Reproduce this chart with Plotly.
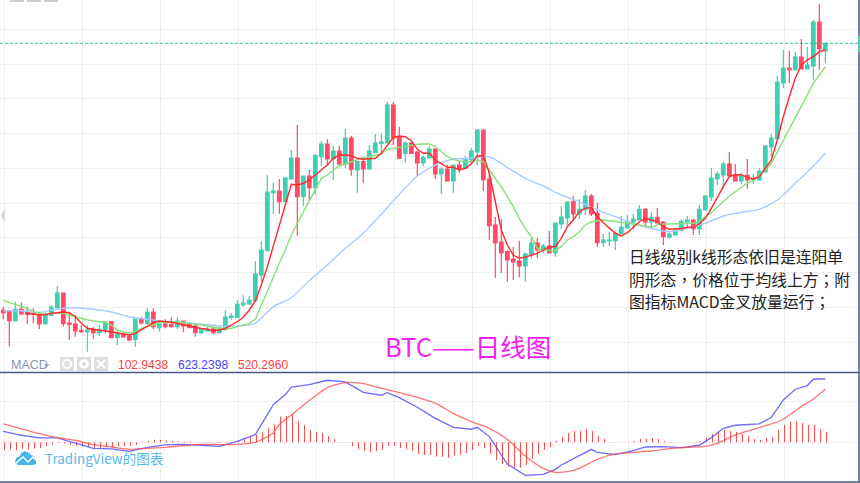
"""BTC daily candles with three moving averages and a MACD pane."""
import plotly.graph_objects as go

W, H = 860, 483

# Candles, oldest first. The source hides its price axis, so prices are in chart units.
opens = [
    900, 883, 793, 907, 873, 867, 857, 760, 847, 923,
    1070, 770, 760, 693, 683, 710, 673, 707, 783, 623,
    660, 640, 607, 807, 767, 880, 723, 760, 753, 733,
    790, 753, 740, 673, 690, 710, 673, 707, 827, 823,
    953, 960, 993, 1250, 1493, 2073, 2090, 1983, 2210, 2420,
    2033, 2240, 2123, 2433, 2560, 2410, 2490, 2360, 2620, 2300,
    2383, 2310, 2477, 2567, 2570, 2950, 2637, 2467, 2570, 2480,
    2370, 2420, 2510, 2260, 2310, 2190, 2350, 2317, 2403, 2480,
    2700, 2210, 1750, 1580, 1483, 1410, 1390, 1340, 1450, 1570,
    1500, 1540, 1470, 1760, 1820, 1983, 1860, 1907, 2040, 1867,
    1573, 1590, 1593, 1660, 1720, 1780, 1800, 1907, 1780, 1827,
    1780, 1630, 1650, 1693, 1780, 1800, 1713, 1900, 2030, 2210,
    2250, 2360, 2250, 2190, 2247, 2200, 2200, 2280, 2530, 2610,
    3170, 3320, 3300, 3430, 3310, 3340, 3780, 3490,
]
highs = [
    933, 883, 983, 977, 933, 917, 867, 883, 950, 1140,
    1070, 883, 850, 750, 750, 733, 750, 790, 790, 707,
    683, 660, 810, 833, 917, 917, 767, 807, 827, 827,
    790, 783, 750, 717, 733, 733, 733, 900, 867, 1000,
    1050, 1040, 1387, 1590, 2250, 2177, 2210, 2233, 2500, 2750,
    2240, 2300, 2460, 2590, 2607, 2540, 2540, 2710, 2640, 2383,
    2433, 2550, 2660, 2667, 2980, 2980, 2733, 2583, 2583, 2490,
    2443, 2540, 2510, 2327, 2350, 2350, 2390, 2443, 2523, 2710,
    2707, 2267, 1830, 1810, 1493, 1533, 1593, 1473, 1617, 1620,
    1560, 1690, 1770, 1940, 1980, 2040, 2010, 2100, 2060, 1973,
    1660, 1680, 1680, 1840, 1850, 1860, 1950, 1920, 1877, 1920,
    1790, 1677, 1700, 1807, 1840, 1810, 1950, 2050, 2320, 2287,
    2383, 2480, 2360, 2273, 2410, 2260, 2320, 2550, 2660, 3240,
    3500, 3493, 3480, 3610, 3530, 3800, 3960, 3567,
]
lows = [
    807, 533, 793, 850, 760, 767, 710, 760, 840, 923,
    733, 600, 633, 673, 483, 610, 640, 660, 623, 550,
    623, 587, 533, 757, 750, 707, 683, 717, 723, 710,
    677, 717, 633, 660, 683, 660, 673, 693, 800, 823,
    933, 950, 983, 1183, 1493, 1860, 1860, 1983, 2210, 1643,
    1943, 1990, 2050, 2340, 2360, 2200, 2350, 2320, 2243, 2073,
    2173, 2300, 2467, 2473, 2570, 2550, 2417, 2370, 2467, 2240,
    2340, 2410, 2210, 2060, 2190, 2073, 2273, 2317, 2373, 2350,
    2090, 1600, 1220, 1270, 1183, 1200, 1227, 1183, 1417, 1420,
    1467, 1470, 1433, 1710, 1750, 1810, 1810, 1850, 1840, 1530,
    1533, 1540, 1500, 1660, 1720, 1707, 1800, 1727, 1727, 1770,
    1550, 1613, 1650, 1693, 1707, 1650, 1650, 1900, 1990, 2150,
    2113, 2240, 2190, 2160, 2113, 2160, 2193, 2280, 2433, 2610,
    3120, 3170, 3300, 3310, 3310, 3200, 3300, 3370,
]
closes = [
    873, 793, 907, 860, 857, 860, 760, 857, 930, 1070,
    763, 757, 690, 683, 700, 673, 707, 780, 623, 660,
    630, 600, 810, 770, 880, 733, 757, 733, 733, 790,
    740, 723, 673, 703, 710, 673, 720, 830, 840, 957,
    970, 1000, 1260, 1500, 2080, 2090, 1983, 2220, 2420, 2033,
    2240, 2123, 2443, 2560, 2410, 2490, 2360, 2620, 2307, 2383,
    2310, 2490, 2570, 2580, 2950, 2620, 2417, 2570, 2467, 2370,
    2427, 2510, 2260, 2310, 2190, 2350, 2317, 2410, 2490, 2700,
    2203, 1743, 1570, 1470, 1400, 1380, 1340, 1460, 1570, 1500,
    1540, 1470, 1770, 1830, 1980, 1860, 1907, 2040, 1860, 1573,
    1600, 1600, 1667, 1727, 1787, 1810, 1907, 1780, 1827, 1770,
    1633, 1660, 1700, 1787, 1800, 1713, 1907, 2040, 2220, 2260,
    2360, 2240, 2190, 2247, 2200, 2210, 2287, 2540, 2620, 3180,
    3320, 3300, 3430, 3310, 3350, 3780, 3510, 3567,
]

# Moving averages. The fast one starts at bar 4, the slow one is read every few bars.
ma_fast_start = 4
ma_fast = [
    867, 860, 850, 853, 867, 873, 880, 873, 833, 767,
    717, 705, 700, 690, 680, 670, 660, 650, 667, 700,
    733, 773, 790, 785, 777, 765, 753, 738, 723, 715,
    707, 693, 700, 717, 750, 783, 827, 900, 990, 1150,
    1333, 1543, 1760, 1960, 2157, 2150, 2167, 2200, 2250, 2300,
    2350, 2417, 2450, 2450, 2443, 2417, 2407, 2413, 2417, 2467,
    2550, 2627, 2637, 2633, 2593, 2507, 2467, 2467, 2400, 2360,
    2327, 2327, 2300, 2317, 2360, 2443, 2440, 2267, 1967, 1700,
    1550, 1450, 1417, 1427, 1450, 1467, 1500, 1533, 1533, 1617,
    1733, 1800, 1883, 1917, 1927, 1833, 1773, 1717, 1667, 1640,
    1673, 1727, 1783, 1817, 1800, 1783, 1733, 1707, 1713, 1713,
    1727, 1727, 1760, 1817, 1917, 2033, 2133, 2233, 2253, 2253,
    2227, 2210, 2233, 2317, 2400, 2600, 2833, 3033, 3217, 3350,
    3400, 3433, 3483, 3500,
]
ma_mid = [
    993, 973, 957, 940, 917, 883, 867, 857, 867, 873,
    867, 850, 833, 817, 800, 790, 783, 777, 750, 700,
    683, 667, 683, 717, 733, 750, 777, 777, 773, 773,
    777, 767, 760, 750, 740, 727, 717, 710, 717, 733,
    750, 767, 807, 950, 1100, 1233, 1367, 1500, 1650, 1767,
    1883, 2000, 2117, 2217, 2250, 2300, 2340, 2360, 2383, 2400,
    2423, 2433, 2443, 2460, 2507, 2517, 2527, 2540, 2550, 2557,
    2560, 2560, 2533, 2483, 2433, 2407, 2390, 2383, 2383, 2400,
    2383, 2300, 2217, 2133, 2033, 1933, 1817, 1717, 1633, 1517,
    1500, 1493, 1493, 1533, 1600, 1633, 1683, 1750, 1783, 1793,
    1800, 1793, 1787, 1773, 1773, 1760, 1750, 1733, 1727, 1750,
    1760, 1760, 1760, 1760, 1767, 1767, 1783, 1833, 1873, 1933,
    1983, 2040, 2083, 2117, 2167, 2200, 2250, 2300, 2367, 2483,
    2600, 2717, 2833, 2933, 3050, 3167, 3250, 3333,
]
ma_slow_bars = [
    0, 3, 6, 9, 12, 15, 18, 21, 24, 27, 30, 33, 36, 39, 42, 45, 48, 51, 54, 57,
    60, 63, 66, 69, 72, 75, 78, 81, 84, 87, 90, 93, 96, 99, 102, 105, 108, 111,
    114, 117, 120, 123, 126, 129, 132, 135, 137,
]
ma_slow = [
    893, 893, 877, 910, 923, 907, 880, 833, 807, 783, 773, 760, 740, 740, 767, 933,
    1023, 1193, 1350, 1517, 1667, 1857, 2057, 2240, 2350, 2410, 2417, 2433, 2327,
    2217, 2140, 2050, 1983, 1900, 1833, 1767, 1717, 1683, 1717, 1767, 1840, 1877,
    1907, 2000, 2167, 2340, 2467,
]

# MACD pane.
macd_hist = [
    -72, -72, -78, -65, -72, -62, -56, -39, -23, -7,
    -13, -23, -33, -39, -46, -56, -56, -49, -46, -39,
    -39, -33, -26, 7, 13, 26, 23, 16, 13, 10,
    7, 7, 3, 0, -3, -3, -7, -3, 3, 10,
    43, 52, 75, 98, 141, 173, 252, 258, 275, 209,
    170, 118, 101, 92, 62, 33, 3, 3, -36, -65,
    -85, -95, -85, -75, -36, -36, -56, -65, -85, -114,
    -124, -124, -141, -144, -154, -128, -124, -105, -75, -36,
    -56, -114, -173, -213, -239, -249, -249, -222, -164, -114,
    -75, -46, 13, 52, 92, 111, 111, 131, 111, 62,
    33, 3, 0, 0, 3, 13, 33, 33, 43, 33,
    13, 0, 0, 0, 3, 0, 13, 43, 82, 101,
    121, 111, 101, 82, 62, 33, 23, 43, 52, 121,
    170, 199, 209, 190, 170, 170, 131, 103,
]
macd_bars = [
    0, 3, 6, 9, 12, 15, 18, 21, 24, 27, 30, 33, 36, 39, 42, 45, 47, 48, 51, 54, 57,
    60, 63, 64, 66, 69, 72, 75, 78, 79, 81, 84, 87, 90, 92, 93, 95, 96, 98, 99, 102,
    105, 107, 110, 113, 116, 118, 120, 122, 126, 128, 130, 132, 134, 135, 137,
]
macd_line = [
    108, 69, 43, 43, -7, -59, -65, -88, -49, -26, -20, -26, -39, 10, 75, 369, 468,
    540, 566, 608, 592, 490, 461, 487, 438, 343, 235, 147, 128, 147, 56, -213, -324,
    -314, -265, -222, -164, -128, -69, -98, -121, -82, -46, -43, -52, -29, 46, 137,
    167, 180, 245, 415, 520, 556, 618, 623,
]
signal_bars = [
    0, 3, 6, 9, 12, 15, 18, 21, 24, 27, 30, 33, 36, 39, 42, 45, 46, 48, 51, 54, 57,
    60, 63, 66, 69, 72, 75, 78, 81, 84, 87, 90, 92, 94, 96, 99, 102, 105, 108, 111,
    114, 117, 119, 122, 125, 128, 130, 133, 135, 137,
]
signal_line = [
    180, 131, 85, 46, 20, -23, -46, -69, -59, -49, -33, -20, -23, -20, 0, 92, 175,
    268, 409, 536, 585, 576, 530, 487, 441, 383, 284, 203, 137, 29, -134, -255, -294,
    -288, -255, -167, -114, -98, -85, -62, -49, -39, -10, 72, 128, 180, 226, 350, 425,
    520,
]
macd_labels = ["102.9438", "623.2398", "520.2960"]

note_lines = [
    "日线级别k线形态依旧是连阳单",
    "阴形态，价格位于均线上方；附",
    "图指标MACD金叉放量运行；",
]

assert len(opens) == len(highs) == len(lows) == len(closes) == len(macd_hist) == len(ma_mid) == 138
assert len(ma_fast) == 134 and len(ma_slow) == len(ma_slow_bars)
assert len(macd_line) == len(macd_bars) and len(signal_line) == len(signal_bars)

UP, DOWN = "#41cfb2", "#ff4a68"
GRID = "#eeeeee"
BORDER = "#4a5a85"
CJK = "Noto Sans CJK SC"
CJK_NOTE = "Noto Sans CJK TC"  # centred full-width punctuation, as in the reference
bars = list(range(len(closes)))


def px(x):
    return x / W


def py(y):
    return 1 - y / H


def rect(x0, y0, x1, y1, color):
    return dict(type="rect", xref="paper", yref="paper", x0=px(x0), y0=py(y0),
                x1=px(x1), y1=py(y1), fillcolor=color, line_width=0)


def seg(x0, y0, x1, y1, color, width):
    return dict(type="line", xref="paper", yref="paper", x0=px(x0), y0=py(y0),
                x1=px(x1), y1=py(y1), line=dict(color=color, width=width))


def poly(points, color=None, line=None, width=1.5):
    path = "M " + " L ".join(f"{px(x):.5f},{py(y):.5f}" for x, y in points)
    if color:
        return dict(type="path", xref="paper", yref="paper", path=path + " Z",
                    fillcolor=color, line_width=0)
    return dict(type="path", xref="paper", yref="paper", path=path,
                line=dict(color=line, width=width))


def label(x, y, text, color, size, family="Liberation Sans"):
    return dict(xref="paper", yref="paper", x=px(x), y=py(y), text=text, showarrow=False,
                xanchor="left", yanchor="middle", align="left", borderpad=0,
                font=dict(color=color, size=size, family=family))


fig = go.Figure()
fig.add_trace(go.Candlestick(
    x=bars, open=opens, high=highs, low=lows, close=closes, whiskerwidth=0,
    increasing=dict(fillcolor=UP, line=dict(color=UP, width=1.2)),
    decreasing=dict(fillcolor=DOWN, line=dict(color=DOWN, width=1.2)),
))
fig.add_trace(go.Scatter(x=ma_slow_bars, y=ma_slow, mode="lines",
                         line=dict(color="#a9ccff", width=1.4, shape="spline", smoothing=0.6)))
fig.add_trace(go.Scatter(x=bars, y=ma_mid, mode="lines",
                         line=dict(color="#86e07a", width=1.4)))
fig.add_trace(go.Scatter(x=list(range(ma_fast_start, len(closes))), y=ma_fast, mode="lines",
                         line=dict(color="#ff2a2a", width=1.4)))

# histogram as 1px stems: plotly bars will not go thinner than about 2px here
stem_x, stem_y = [], []
for b, value in zip(bars, macd_hist):
    stem_x += [b + 0.2, b + 0.2, None]
    stem_y += [0, value, None]
fig.add_trace(go.Scatter(x=stem_x, y=stem_y, mode="lines", xaxis="x2", yaxis="y2",
                         line=dict(color="#ff4d4d", width=1)))
fig.add_trace(go.Scatter(x=macd_bars, y=macd_line, mode="lines", xaxis="x2", yaxis="y2",
                         line=dict(color="rgba(70,70,255,0.8)", width=1.3)))
fig.add_trace(go.Scatter(x=signal_bars, y=signal_line, mode="lines", xaxis="x2", yaxis="y2",
                         line=dict(color="rgba(255,70,70,0.75)", width=1.3, shape="spline", smoothing=0.6)))

x_range = [-0.55, 142.78]
x_common = dict(range=x_range, tickmode="linear", tick0=0.17, dtick=13, showgrid=True,
                gridcolor=GRID, gridwidth=1, zeroline=False, showticklabels=False,
                ticks="", showline=False, rangeslider=dict(visible=False))

shapes = [
    # last price line and its tag on the right edge
    dict(type="line", xref="paper", yref="y", x0=0, x1=1, y0=closes[-1], y1=closes[-1],
         line=dict(color="#2fc4a4", width=1, dash="3px,2px")),
    seg(0, 372.5, W, 372.5, BORDER, 1.5),
    seg(0, 482, W, 482, BORDER, 1.5),
    seg(859, 0, 859, 482, BORDER, 1.5),
    rect(858, 36, 860, 52, UP),
    # cropped toolbar leftovers and the pane handle
    rect(10, 0, 24, 2, "#cfcfcf"),
    rect(27, 0, 41, 2, "#cfcfcf"),
    rect(44, 0, 58, 2, "#cfcfcf"),
    poly([(4.5, 209), (4.5, 222), (1.5, 215.5)], color="#cfcfcf"),
    # indicator legend buttons
    rect(60, 357, 74, 371, "#dedede"),
    rect(77, 357, 91, 371, "#dedede"),
    rect(94, 357, 108, 371, "#dedede"),
    dict(type="circle", xref="paper", yref="paper", x0=px(63), x1=px(71), y0=py(360), y1=py(368),
         line=dict(color="white", width=2)),
    dict(type="circle", xref="paper", yref="paper", x0=px(80.5), x1=px(87.5), y0=py(360.5), y1=py(367.5),
         line=dict(color="white", width=2.5)),
    seg(97, 360, 105, 368, "white", 2),
    seg(97, 368, 105, 360, "white", 2),
    poly([(44, 364), (50, 364), (46, 368)], color="#b5bccb"),
    # TradingView mark
    poly([(15, 463), (16, 458), (20, 456), (21, 453), (25, 451), (29, 453), (31, 455),
          (34, 456), (36, 460), (36, 464), (33, 465), (18, 465)], color="#45b5e8"),
    poly([(15, 464), (23, 457), (28, 462), (33, 457), (37, 461)], line="white", width=1.5),
]

annotations = [
    label(384, 345, "BTC——日线图", "#f21ef2", 25.5, CJK),
    label(10, 365, "MACD", "#8a94ad", 12.5),
    label(117, 365, macd_labels[0], "#ff3f3f", 12),
    label(177, 365, macd_labels[1], "#3f3fff", 12),
    label(237, 365, macd_labels[2], "#ff3f3f", 12),
    label(44, 458, "TradingView的图表", "#58b8e8", 13.5, CJK),
]
for line_y, line in zip([256, 279, 301], note_lines):
    annotations.append(label(628, line_y, line, "#222222", 15.8, CJK_NOTE))

fig.update_layout(
    width=W, height=H, margin=dict(l=0, r=0, t=0, b=0),
    paper_bgcolor="white", plot_bgcolor="white", showlegend=False, boxgap=0.15,
    xaxis=dict(anchor="y", domain=[0, 1], **x_common),
    xaxis2=dict(anchor="y2", domain=[0, 1], matches="x", **x_common),
    # price pane: 29 px to 341 px gridlines
    yaxis=dict(domain=[py(372.5), 1], range=[275, 4000], tickmode="linear", tick0=3707,
               dtick=347.5, gridcolor=GRID, showticklabels=False, zeroline=False, ticks=""),
    yaxis2=dict(domain=[py(482), py(372.5)], range=[-389, 684], tickmode="linear", tick0=0,
                dtick=400, gridcolor=GRID, showticklabels=False, zeroline=True,
                zerolinecolor=GRID, zerolinewidth=1, ticks=""),
    shapes=shapes, annotations=annotations,
)
# the browser's default body margin would push the 860x483 figure off the window
fig.write_html("out.html", include_plotlyjs=True, config={"displayModeBar": False},
               post_script="document.body.style.margin='0';window.dispatchEvent(new Event('resize'));")
